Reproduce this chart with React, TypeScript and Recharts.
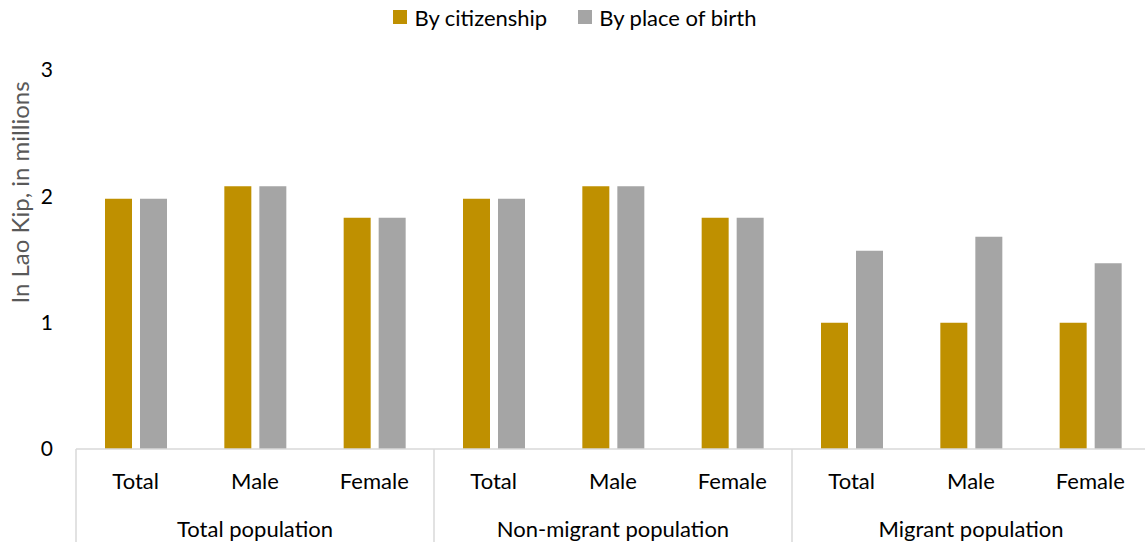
import React from 'react';
import { BarChart, Bar, XAxis, YAxis, Legend } from 'recharts';

const groups = ['Total population', 'Non-migrant population', 'Migrant population'];
const subCategories = ['Total', 'Male', 'Female', 'Total', 'Male', 'Female', 'Total', 'Male', 'Female'];
const byCitizenship = [1.98, 2.08, 1.83, 1.98, 2.08, 1.83, 1.0, 1.0, 1.0];
const byPlaceOfBirth = [1.98, 2.08, 1.83, 1.98, 2.08, 1.83, 1.57, 1.68, 1.47];
const yTicks = [0, 1, 2, 3];
const seriesNames = ['By citizenship', 'By place of birth'];

const GOLD = '#BF9000';
const GRAY = '#A5A5A5';
const GRID = '#D9D9D9';
const FONT = 'Lato, Carlito, Calibri, sans-serif';

const data = subCategories.map((s, i) => ({
  id: `${i}`,
  sub: s,
  group: groups[Math.floor(i / 3)],
  cit: byCitizenship[i],
  birth: byPlaceOfBirth[i],
}));

const SubTick = (props: any) => {
  const { x, y, payload } = props;
  const label = subCategories[payload.index];
  return (
    <text x={x} y={y + 31} textAnchor="middle" dominantBaseline="central" fontFamily={FONT} fontSize={22} fill="#000">
      {label}
    </text>
  );
};

const GroupTick = (props: any) => {
  const { x, y, payload } = props;
  const i = payload.index;
  const half = payload.offset || 0;
  const els: any[] = [];
  if (i % 3 === 0) {
    els.push(<line key="l" x1={x - half} x2={x - half} y1={y - 56} y2={y + 40} stroke={GRID} strokeWidth={1.5} />);
  }
  if (i === subCategories.length - 1) {
    els.push(<line key="r" x1={x + half} x2={x + half} y1={y - 56} y2={y + 40} stroke={GRID} strokeWidth={1.5} />);
  }
  if (i % 3 === 1) {
    els.push(
      <text key="t" x={x} y={y + 23} textAnchor="middle" dominantBaseline="central" fontFamily={FONT} fontSize={22} fill="#000">
        {groups[Math.floor(i / 3)]}
      </text>
    );
  }
  return <g>{els}</g>;
};

const LegendContent = () => (
  <div style={{ height: 70, display: 'flex', justifyContent: 'center', alignItems: 'flex-start', fontFamily: FONT, fontSize: 22, color: '#000' }}>
    {[GOLD, GRAY].map((c, k) => (
      <div key={k} style={{ display: 'flex', alignItems: 'center', marginRight: k === 0 ? 31 : 0, marginTop: 3, height: 28 }}>
        <span style={{ display: 'inline-block', width: 14, height: 14, background: c, marginRight: 7 }} />
        <span>{seriesNames[k]}</span>
      </div>
    ))}
  </div>
);

const YLabel = (props: any) => {
  const vb = props.viewBox || {};
  const cy = vb.y + vb.height / 2 - 67;
  const cx = 19;
  return (
    <text x={cx} y={cy} transform={`rotate(-90, ${cx}, ${cy})`} textAnchor="middle" dominantBaseline="central" fontFamily={FONT} fontSize={24} fill="#595959">
      In Lao Kip, in millions
    </text>
  );
};

export default function App() {
  return (
    <div style={{ position: 'absolute', left: 0, top: 0, width: 1145, height: 542, overflow: 'hidden', background: '#fff', fontFamily: FONT }}>
      <BarChart
        width={1150}
        height={542}
        data={data}
        margin={{ top: 0, right: 0, bottom: 0, left: 0 }}
        barSize={27}
        barGap={8}
      >
        <Legend verticalAlign="top" align="center" content={<LegendContent />} />
        <YAxis
          type="number"
          domain={[0, 3]}
          ticks={yTicks}
          width={76}
          axisLine={false}
          tickLine={false}
          tickSize={0}
          tickMargin={23}
          tick={{ fill: '#000', fontSize: 21, fontFamily: FONT }}
          label={<YLabel />}
        />
        <XAxis
          dataKey="id"
          type="category"
          height={56}
          axisLine={{ stroke: GRID, strokeWidth: 1.5 }}
          tickLine={false}
          tickSize={0}
          tickMargin={0}
          interval={0}
          tick={<SubTick />}
        />
        <XAxis
          xAxisId="g"
          dataKey="id"
          type="category"
          height={37}
          axisLine={false}
          tickLine={false}
          tickSize={0}
          tickMargin={0}
          interval={0}
          tick={<GroupTick />}
        />
        <Bar dataKey="cit" name={seriesNames[0]} fill={GOLD} isAnimationActive={false} />
        <Bar dataKey="birth" name={seriesNames[1]} fill={GRAY} isAnimationActive={false} />
      </BarChart>
    </div>
  );
}
